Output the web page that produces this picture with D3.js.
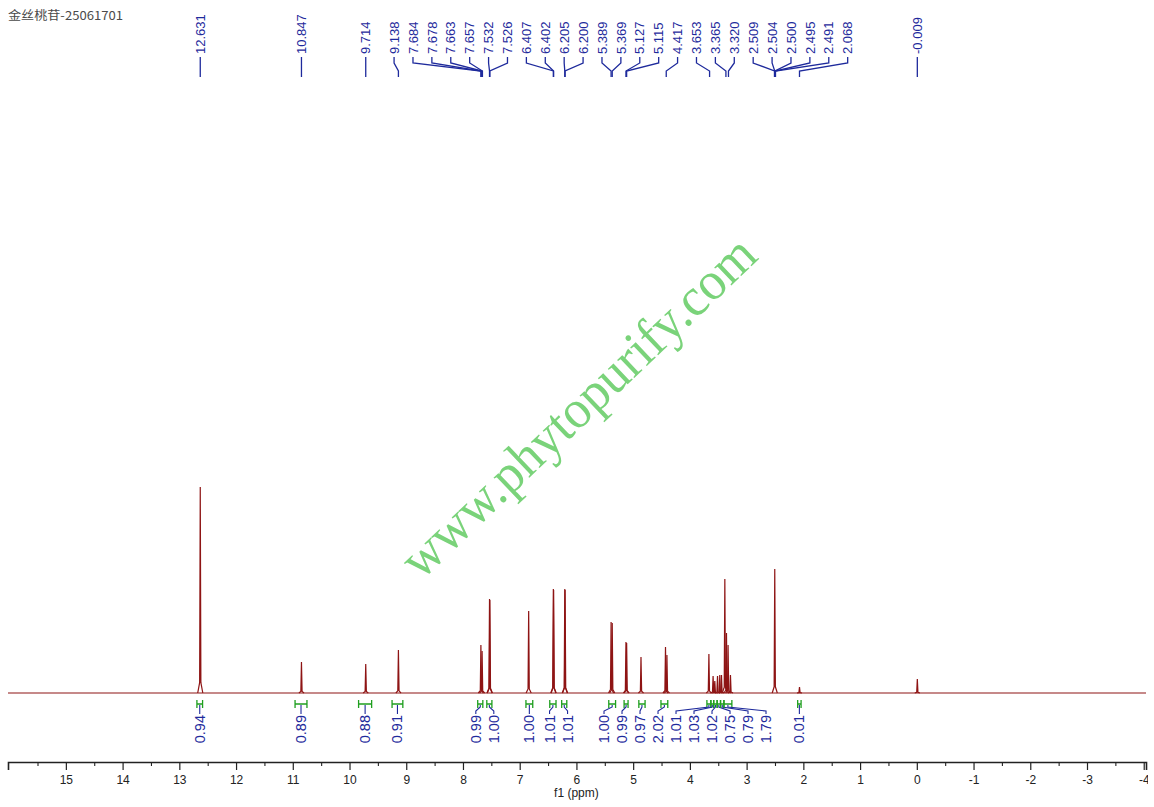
<!DOCTYPE html>
<html><head><meta charset="utf-8">
<script src="https://cdn.jsdelivr.net/npm/d3@7"></script>
<style>html,body{margin:0;padding:0;background:#fff;overflow:hidden}</style>
</head><body><svg id="c" width="1154" height="807"></svg>
<script>
// ---------- data ----------
const title = "金丝桃苷-25061701";
const axisTitle = "f1 (ppm)";
const watermark = "www.phytopurify.com";

// spectrum peaks (ppm, relative intensity; tallest = 100)
const peakPpm = [12.631, 10.847, 9.714, 9.138, 7.684, 7.663, 7.532, 7.526, 6.842, 6.407, 6.402, 6.205, 6.200,
  5.389, 5.369, 5.127, 5.115, 4.862, 4.430, 4.405, 3.665, 3.591, 3.561, 3.513, 3.473, 3.443, 3.384, 3.355,
  3.327, 3.285, 2.504, 2.068, -0.009];
const peakInt = [100, 15.0, 14.1, 20.9, 23.3, 20.4, 45.6, 45.1, 39.8, 50.5, 50.0, 50.5, 50.0,
  34.5, 34.0, 24.8, 24.3, 17.5, 22.3, 18.4, 18.9, 8.3, 5.8, 8.3, 8.7, 8.7, 55.3, 29.1,
  23.3, 8.7, 60.2, 2.9, 6.8];

// peak-pick labels
const labelPpm = [12.631, 10.847, 9.714, 9.138, 7.684, 7.678, 7.663, 7.657, 7.532, 7.526, 6.407, 6.402, 6.205,
  6.200, 5.389, 5.369, 5.127, 5.115, 4.417, 3.653, 3.365, 3.320, 2.509, 2.504, 2.500, 2.495, 2.491, 2.068, -0.009];

// integrals
const integFrom = [12.69, 10.96, 9.84, 9.25, 7.74, 7.58, 6.89, 6.47, 6.26, 5.43, 5.16, 4.90, 4.51, 3.70, 3.63, 3.58, 3.52, 3.46, 3.40, 2.10];
const integTo   = [12.59, 10.75, 9.61, 9.06, 7.65, 7.49, 6.77, 6.36, 6.17, 5.31, 5.09, 4.79, 4.39, 3.63, 3.58, 3.52, 3.46, 3.40, 3.26, 2.04];
const integValue = ["0.94", "0.89", "0.88", "0.91", "0.99", "1.00", "1.00", "1.01", "1.01", "1.00", "0.99", "0.97", "2.02",
  "1.01", "1.03", "1.02", "0.75", "0.79", "1.79", "0.01"];

// axis ticks
const majorTicks = [15, 14, 13, 12, 11, 10, 9, 8, 7, 6, 5, 4, 3, 2, 1, 0, -1, -2, -3, -4];
const minorTicks = [15.5, 14.5, 13.5, 12.5, 11.5, 10.5, 9.5, 8.5, 7.5, 6.5, 5.5, 4.5, 3.5, 2.5, 1.5, 0.5, -0.5, -1.5, -2.5, -3.5];

// ---------- chart ----------
const svg = d3.select("#c");
const x = d3.scaleLinear().domain([16.02, -4.04]).range([8, 1146]);
const y = d3.scaleLinear().domain([0, 100]).range([693, 487]);
const line = d3.line().x(d => x(d[0])).y(d => y(d[1]));

const SANS = "'Liberation Sans', Arial, sans-serif";
const BLUE = "#1e2a9c";
const RED = "#8e1414";
const GREEN = "#1f9f1f";

// title
svg.append("text").attr("x", 8).attr("y", 20)
  .attr("font-family", "'Noto Sans CJK SC', 'Liberation Mono', monospace")
  .attr("font-size", 12).attr("fill", "#4a4a4a")
  .attr("textLength", 115).attr("lengthAdjust", "spacingAndGlyphs")
  .text(title);

// watermark
svg.append("text")
  .attr("transform", "translate(421,581) rotate(-43.6)")
  .attr("font-family", "'Liberation Serif', 'Times New Roman', serif")
  .attr("font-size", 54).attr("fill", "#7ad37a")
  .attr("textLength", 468).attr("lengthAdjust", "spacingAndGlyphs")
  .text(watermark);

// spectrum baseline + peaks
const spec = svg.append("g").attr("fill", "none").attr("stroke", RED).attr("stroke-width", 1.2);
spec.append("path").attr("d", line([[x.domain()[0], 0], [x.domain()[1], 0]]));
peakPpm.forEach((p, i) => {
  const h = peakInt[i];
  spec.append("path").attr("d", line([[p + 0.045, 0], [p + 0.011, h * 0.05], [p, h], [p - 0.011, h * 0.05], [p - 0.045, 0]]));
});

// label layout helper (keeps labels apart, least-squares centred on targets)
function spread(desired, s) {
  const clusters = [];
  desired.forEach((d, i) => {
    clusters.push({ idx: [i], c: d });
    while (clusters.length > 1) {
      const a = clusters[clusters.length - 2], b = clusters[clusters.length - 1];
      const aEnd = a.c + (a.idx.length - 1) * s;
      if (b.c - aEnd < s - 1e-6) {
        const idx = a.idx.concat(b.idx);
        const c = d3.mean(idx.map((k, j) => desired[k] - j * s));
        clusters.splice(-2, 2, { idx, c });
      } else break;
    }
  });
  const out = new Array(desired.length);
  clusters.forEach(cl => cl.idx.forEach((k, j) => out[k] = cl.c + j * s));
  return out;
}

// peak labels
const peakTargets = labelPpm.map(p => x(p));
const peakLabelX = spread(peakTargets, 18.9);
const pl = svg.append("g");
labelPpm.forEach((p, i) => {
  const xl = peakLabelX[i], xp = peakTargets[i];
  pl.append("path").attr("fill", "none").attr("stroke", BLUE).attr("stroke-width", 1.3)
    .attr("d", `M${xl},57V63L${xp},71V77`);
  pl.append("text").attr("transform", `translate(${xl + 4.7},54) rotate(-90)`)
    .attr("font-family", SANS).attr("font-size", 13).attr("fill", BLUE)
    .attr("text-anchor", "start").text(p.toFixed(3));
});

// integrals
const integCenters = integFrom.map((f, i) => x((f + integTo[i]) / 2));
const integLabelX = spread(integCenters, 18);
const ig = svg.append("g");
integFrom.forEach((f, i) => {
  const x1 = x(f), x2 = x(integTo[i]), xc = integCenters[i], xl = integLabelX[i];
  ig.append("path").attr("fill", "none").attr("stroke", GREEN).attr("stroke-width", 1.3)
    .attr("d", `M${x1},700V708M${x1},704H${x2}M${x2},700V708`);
  ig.append("path").attr("fill", "none").attr("stroke", BLUE).attr("stroke-width", 1.1)
    .attr("d", `M${xc},705V707L${xl},711V714`);
  ig.append("text").attr("transform", `translate(${xl + 5},715) rotate(-90)`)
    .attr("font-family", SANS).attr("font-size", 14.5).attr("fill", BLUE)
    .attr("text-anchor", "end").text(integValue[i]);
});

// x axis
svg.append("clipPath").attr("id", "axclip").append("rect").attr("x", 0).attr("y", 740).attr("width", 1148).attr("height", 70);
const ax = svg.append("g").attr("clip-path", "url(#axclip)");
const axisMajor = d3.axisBottom(x).tickValues(majorTicks).tickSize(8).tickPadding(5).tickFormat(d => String(d));
const gMaj = ax.append("g").attr("transform", "translate(0,762)").call(axisMajor);
gMaj.select(".domain").attr("stroke", "#222").attr("stroke-width", 1.6);
gMaj.selectAll(".tick line").attr("stroke", "#222").attr("stroke-width", 1.2);
gMaj.selectAll(".tick text").attr("font-family", SANS).attr("font-size", 12).attr("fill", "#222");
const axisMinor = d3.axisBottom(x).tickValues(minorTicks).tickSize(4).tickFormat("");
const gMin = ax.append("g").attr("transform", "translate(0,762)").call(axisMinor);
gMin.select(".domain").remove();
gMin.selectAll(".tick line").attr("stroke", "#222").attr("stroke-width", 1.1);

svg.append("text").attr("x", x(6)).attr("y", 797).attr("text-anchor", "middle")
  .attr("font-family", SANS).attr("font-size", 12).attr("fill", "#222").text(axisTitle);
</script></body></html>
